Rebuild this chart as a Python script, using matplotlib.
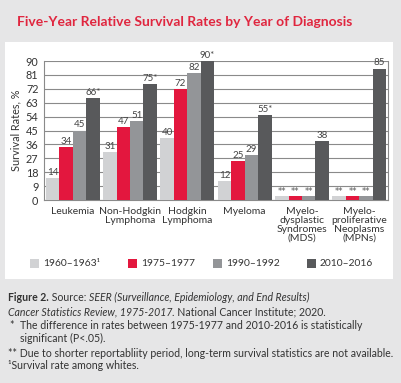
import matplotlib
matplotlib.use("Agg")
import matplotlib.pyplot as plt
from matplotlib.patches import Rectangle
from matplotlib.text import Annotation
import numpy as np

# ---- data ----
categories = ["Leukemia", "Non-Hodgkin\nLymphoma", "Hodgkin\nLymphoma", "Myeloma",
              "Myelo-\ndysplastic\nSyndromes\n(MDS)", "Myelo-\nproliferative\nNeoplasms\n(MPNs)"]
periods = ["1960\u20131963\u00b9", "1975\u20131977", "1990\u20131992", "2010\u20132016"]
rates_1960 = [14, 31, 40, 12, None, None]
rates_1975 = [34, 47, 72, 25, None, None]
rates_1990 = [45, 51, 82, 29, None, None]
rates_2010 = [66, 75, 90, 55, 38, 85]
significant_2010 = [True, True, True, True, False, False]
series = [rates_1960, rates_1975, rates_1990, rates_2010]
yticks = list(range(0, 91, 9))

colors = ["#d1d2d4", "#e3173e", "#939598", "#58595b"]
NA_STUB = 2.6  # short stub drawn for "not available" values

W, H = 401, 383
plt.rcParams['font.family'] = ['Lato', 'DejaVu Sans']
fig = plt.figure(figsize=(W / 100, H / 100), dpi=100)
fig.patch.set_facecolor("#e6e6e7")

def fx(px): return px / W
def fy(py): return 1 - py / H

# white panel
fig.patches.append(Rectangle((fx(5), fy(279)), fx(393) - fx(5), fy(42) - fy(279),
                             transform=fig.transFigure, facecolor="white", edgecolor="none", zorder=-5))

fig.text(fx(17), fy(22), "Five-Year Relative Survival Rates by Year of Diagnosis",
         color="#e0263f", fontsize=10.0, fontweight="bold", va="center", ha="left")

ax = fig.add_axes([fx(44), fy(200), fx(388) - fx(44), fy(61) - fy(200)])
ax.set_zorder(2)
ax.set_facecolor("white")
n = len(categories)
x = np.arange(n)
bw = 0.235
for i, (vals, c) in enumerate(zip(series, colors)):
    off = (i - 1.5) * bw
    for j, v in enumerate(vals):
        h = NA_STUB if v is None else v
        ax.bar(x[j] + off, h, width=bw, color=c, zorder=3)
        if v is None:
            ax.text(x[j] + off, h + 0.2, "**", ha="center", va="bottom", fontsize=6.0,
                    color="#555555", clip_on=False, zorder=4, family="DejaVu Sans")
        else:
            lab = f"{v}*" if (i == 3 and significant_2010[j]) else f"{v}"
            ax.text(x[j] + off, h + 0.8, lab, ha="center", va="bottom", fontsize=7.0,
                    color="#444444", clip_on=False, zorder=4)

ax.set_xlim(-0.5, n - 0.5)
ax.set_ylim(0, 90)
ax.set_yticks(yticks)
ax.yaxis.grid(True, color="#8a8a8a", linewidth=0.8, zorder=1)
ax.set_axisbelow(True)
ax.tick_params(axis="y", length=0, pad=4, labelsize=7.8, labelcolor="#333333")
ax.set_xticks(x)
ax.set_xticklabels(categories, fontsize=7.5, color="#333333", linespacing=1.0, va="top")
ax.tick_params(axis="x", length=0, pad=5)
ax.spines["top"].set_visible(False)
for s in ["left", "bottom", "right"]:
    ax.spines[s].set_color("#8a8a8a")
    ax.spines[s].set_linewidth(0.8)
ax.set_ylabel("Survival Rates, %", fontsize=7.8, color="#333333", labelpad=3)

# legend
leg_x = [30, 128, 213, 307]
for lx, lab, c in zip(leg_x, periods, colors):
    fig.patches.append(Rectangle((fx(lx), fy(268)), fx(9), 9 / H, transform=fig.transFigure,
                                 facecolor=c, edgecolor="none"))
    fig.text(fx(lx + 13), fy(263.5), lab, fontsize=7.4, color="#333333", va="center", ha="left")

# caption with mixed styles
cap_fs = 7.6
cap_col = "#333333"

def line(pieces, px, py):
    prev = None
    for txt, style in pieces:
        kw = dict(fontsize=cap_fs, color=cap_col)
        if style == "b":
            kw["fontweight"] = "bold"
        elif style == "i":
            kw["fontstyle"] = "italic"
        if prev is None:
            prev = fig.text(fx(px), fy(py), txt, va="bottom", ha="left", **kw)
        else:
            prev = fig.add_artist(Annotation(txt, xy=(1, 0), xycoords=prev,
                                             va="bottom", ha="left", **kw))

line([("Figure 2.", "b"), (" Source: ", "n"), ("SEER (Surveillance, Epidemiology, and End Results)", "i")], 8, 303)
line([("Cancer Statistics Review, 1975-2017", "i"), (". National Cancer Institute; 2020.", "n")], 8, 317)
fig.text(fx(9), fy(331), "*", fontsize=cap_fs, color=cap_col, va="bottom", ha="left")
fig.text(fx(20), fy(331), "The difference in rates between 1975-1977 and 2010-2016 is statistically",
         fontsize=cap_fs, color=cap_col, va="bottom", ha="left")
fig.text(fx(20), fy(344), "significant (P<.05).", fontsize=cap_fs, color=cap_col, va="bottom", ha="left")
fig.text(fx(8), fy(359), "** Due to shorter reportabliity period, long-term survival statistics are not available.",
         fontsize=cap_fs, color=cap_col, va="bottom", ha="left")
fig.text(fx(8), fy(371), "\u00b9Survival rate among whites.", fontsize=cap_fs, color=cap_col, va="bottom", ha="left")

fig.savefig("out.png", dpi=100, facecolor=fig.get_facecolor())
